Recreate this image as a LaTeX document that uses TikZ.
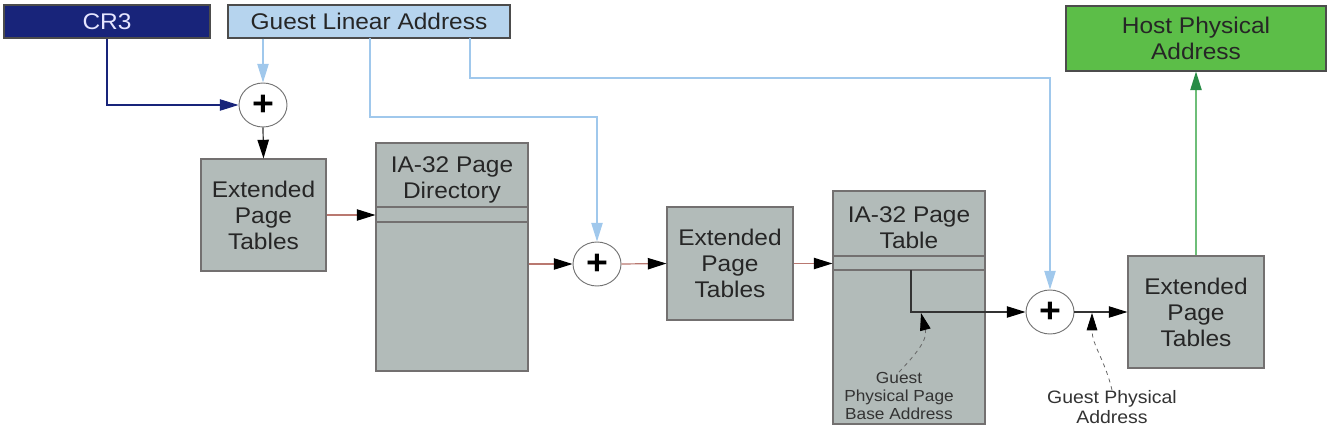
\documentclass[tikz,border=0pt]{standalone}
\usepackage{fontspec}
\setmainfont{Liberation Sans}[FakeStretch=1.08]
\usetikzlibrary{arrows.meta,shapes.geometric}

\definecolor{crnavy}{RGB}{24,36,122}
\definecolor{glablue}{RGB}{182,212,238}
\definecolor{lbline}{RGB}{160,200,236}
\definecolor{hpagreen}{RGB}{92,190,72}
\definecolor{gline}{RGB}{110,190,120}
\definecolor{garrow}{RGB}{40,140,70}
\definecolor{boxgray}{RGB}{178,187,185}
\definecolor{boxedge}{RGB}{115,112,112}
\definecolor{linkred}{RGB}{185,120,112}

\begin{document}
\begin{tikzpicture}[x=0.75pt,y=-0.75pt,
  every node/.style={inner sep=0pt},
  head/.style={-{Triangle[length=14pt,width=8.5pt,color=#1]}},
  box/.style={draw=boxedge, fill=boxgray, line width=0.8pt, align=center,
    text=black!85, font=\fontsize{17}{19.5}\selectfont},
  title/.style={align=center, text=black!85, font=\fontsize{17}{19.5}\selectfont},
  addr/.style={draw=black!70, line width=0.8pt, align=center,
    font=\fontsize{17}{19.5}\selectfont},
  adder/.style={ellipse, draw=black!55, fill=white, line width=0.7pt,
    minimum width=36pt, minimum height=33pt,
    font=\fontsize{26}{26}\bfseries\selectfont},
  note/.style={align=center, text=black!80},
  link/.style={draw=linkred, line width=0.9pt, head=black},
  blk/.style={draw=black!80, line width=0.9pt, head=black},
  lb/.style={draw=lbline, line width=0.9pt, head=lbline},
  cr/.style={draw=crnavy, line width=0.9pt, head=crnavy},
  gr/.style={draw=gline, line width=1.1pt, head=garrow},
  hint/.style={draw=black!60, dashed, line width=0.6pt,
    -{Triangle[length=13pt,width=8pt,color=black]}}]
\useasboundingbox (0,0) rectangle (1332,432);

% address registers
\node[addr, fill=crnavy, text=white!90!blue, minimum width=154.5pt, minimum height=24.75pt] (cr3) at (107,21.5) {CR3};
\node[addr, fill=glablue, text=black!85, minimum width=211.5pt, minimum height=24.75pt] (gla) at (369,21.5) {Guest Linear Address};
\node[addr, fill=hpagreen, text=black!85, minimum width=195pt, minimum height=48.75pt] (hpa) at (1196,38.5) {Host Physical\\Address};

% adders
\node[adder] (c1) at (263,105) {+};
\node[adder] (c2) at (597,264) {+};
\node[adder] (c3) at (1050,312) {+};

% EPT walks and guest paging structures
\node[box, minimum width=93.75pt, minimum height=84pt] (ept1) at (263.5,215) {Extended\\Page\\Tables};
\node[box, minimum width=114pt, minimum height=171pt] (pd) at (452,257) {};
\node[title] (pdt) at (452,180) {IA-32 Page\\Directory};
\node[box, minimum width=94.5pt, minimum height=84.75pt] (ept2) at (730,263.5) {Extended\\Page\\Tables};
\node[box, minimum width=114pt, minimum height=174.75pt] (pt) at (909,307.5) {};
\node[title] (ptt) at (909,228) {IA-32 Page\\Table};
\node[box, minimum width=102pt, minimum height=84pt] (ept3) at (1196,312) {Extended\\Page\\Tables};

% table entries
\draw[draw=boxedge, line width=0.8pt] (pd.west |- 0,207) -- (pd.east |- 0,207)
  (pd.west |- 0,222) -- (pd.east |- 0,222);
\draw[draw=boxedge, line width=0.8pt] (pt.west |- 0,256) -- (pt.east |- 0,256)
  (pt.west |- 0,270) -- (pt.east |- 0,270);
\coordinate (pte) at (911,270);

% guest linear address fields
\coordinate (g2) at (370,38);
\coordinate (j2) at (597,117);
\coordinate (g3) at (470,38);
\coordinate (j3) at (1050,78);

\draw[cr] (cr3.south) |- (c1.west);
\draw[lb] (gla.south -| c1.north) -- (c1.north);
\draw[lb] (g2) |- (j2) -- (c2.north);
\draw[lb] (g3) |- (j3) -- (c3.north);

% walk
\draw[blk] (c1.south) -- (ept1.north);
\draw[link] (ept1.east) -- (ept1.east -| pd.west);
\draw[link] (c2.west -| pd.east) -- (c2.west);
\draw[link] (c2.east) -- (ept2.west);
\draw[link] (ept2.east) -- (ept2.east -| pt.west);
\draw[blk] (pte) |- (c3.west);
\draw[blk] (c3.east) -- (ept3.west);
\draw[gr] (ept3.north) -- (hpa.south);

% annotations
\node[note, font=\fontsize{12}{13.5}\selectfont] (gppba) at (899,396) {Guest\\Physical Page\\Base Address};
\node[note, font=\fontsize{13.5}{15}\selectfont] (gpa) at (1112,407) {Guest Physical\\Address};
\coordinate (t1) at (921,313);
\coordinate (t2) at (1092,313);
\draw[hint] (gppba.north) .. controls (915,355) and (928,340) .. (t1);
\draw[hint] (gpa.north) .. controls (1105,360) and (1092,345) .. (t2);
\end{tikzpicture}
\end{document}
